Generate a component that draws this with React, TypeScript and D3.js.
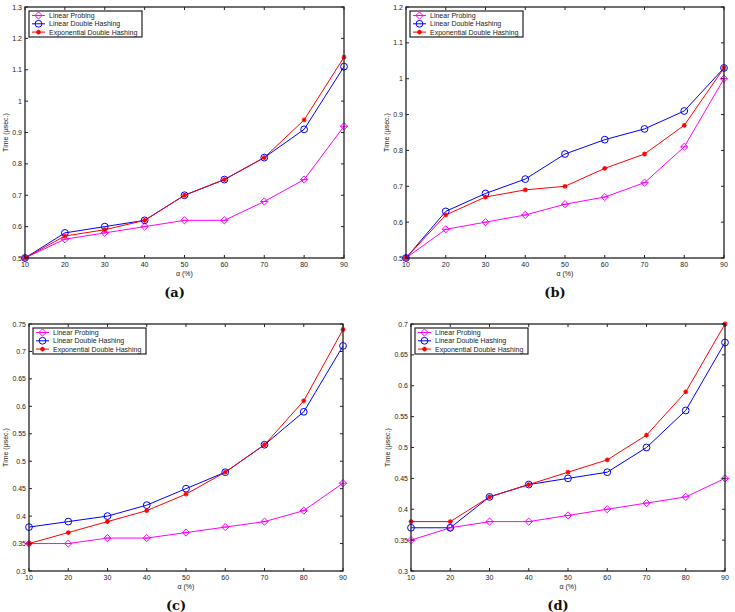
import React from "react";
import * as d3 from "d3";

const alphas = [10, 20, 30, 40, 50, 60, 70, 80, 90];
const seriesNames = ["Linear Probing", "Linear Double Hashing", "Exponential Double Hashing"];
const seriesColors = ["#ff00ff", "#0000ff", "#ff0000"];
const seriesMarkers = ["diamond", "circle", "star"];

const aLP = [0.5, 0.56, 0.58, 0.6, 0.62, 0.62, 0.68, 0.75, 0.92];
const aLDH = [0.5, 0.58, 0.6, 0.62, 0.7, 0.75, 0.82, 0.91, 1.11];
const aEDH = [0.5, 0.57, 0.59, 0.62, 0.7, 0.75, 0.82, 0.94, 1.14];

const bLP = [0.5, 0.58, 0.6, 0.62, 0.65, 0.67, 0.71, 0.81, 1.0];
const bLDH = [0.5, 0.63, 0.68, 0.72, 0.79, 0.83, 0.86, 0.91, 1.03];
const bEDH = [0.5, 0.62, 0.67, 0.69, 0.7, 0.75, 0.79, 0.87, 1.03];

const cLP = [0.35, 0.35, 0.36, 0.36, 0.37, 0.38, 0.39, 0.41, 0.46];
const cLDH = [0.38, 0.39, 0.4, 0.42, 0.45, 0.48, 0.53, 0.59, 0.71];
const cEDH = [0.35, 0.37, 0.39, 0.41, 0.44, 0.48, 0.53, 0.61, 0.74];

const dLP = [0.35, 0.37, 0.38, 0.38, 0.39, 0.4, 0.41, 0.42, 0.45];
const dLDH = [0.37, 0.37, 0.42, 0.44, 0.45, 0.46, 0.5, 0.56, 0.67];
const dEDH = [0.38, 0.38, 0.42, 0.44, 0.46, 0.48, 0.52, 0.59, 0.7];

const yTicksA = [0.5, 0.6, 0.7, 0.8, 0.9, 1, 1.1, 1.2, 1.3];
const yTicksB = [0.5, 0.6, 0.7, 0.8, 0.9, 1, 1.1, 1.2];
const yTicksC = [0.3, 0.35, 0.4, 0.45, 0.5, 0.55, 0.6, 0.65, 0.7, 0.75];
const yTicksD = [0.3, 0.35, 0.4, 0.45, 0.5, 0.55, 0.6, 0.65, 0.7];

const FONT = "'Liberation Sans', Arial, Helvetica, sans-serif";

function Marker({ type, x, y, color }: { type: string; x: number; y: number; color: string }) {
  if (type === "diamond") {
    const s = 3.6;
    return (
      <g>
        <path d={`M${x},${y - s}L${x + s},${y}L${x},${y + s}L${x - s},${y}Z`} fill="none" stroke={color} strokeWidth={1} />
        <line x1={x - s} y1={y} x2={x + s} y2={y} stroke={color} strokeWidth={1} />
      </g>
    );
  }
  if (type === "circle") {
    return <circle cx={x} cy={y} r={3.4} fill="none" stroke={color} strokeWidth={1} />;
  }
  const s = 2.4;
  return (
    <g stroke={color} strokeWidth={1.3}>
      <line x1={x - s} y1={y} x2={x + s} y2={y} />
      <line x1={x} y1={y - s} x2={x} y2={y + s} />
      <line x1={x - s * 0.7} y1={y - s * 0.7} x2={x + s * 0.7} y2={y + s * 0.7} />
      <line x1={x - s * 0.7} y1={y + s * 0.7} x2={x + s * 0.7} y2={y - s * 0.7} />
    </g>
  );
}

function Panel({
  left, top, right, bottom, yDomain, yTicks, series, caption, ylabelX,
}: {
  left: number; top: number; right: number; bottom: number;
  yDomain: [number, number]; yTicks: number[]; series: number[][]; caption: string; ylabelX: number;
}) {
  const x = d3.scaleLinear().domain([10, 90]).range([left, right]);
  const y = d3.scaleLinear().domain(yDomain).range([bottom, top]);
  const line = d3.line<number>().x((_, i) => x(alphas[i])).y((v) => y(v));
  const tl = 3;
  const axisColor = "#222";
  const lx = left + 4;
  const ly = top + 4;
  const legW = 113;
  const legH = 26;
  return (
    <g>
      {series.map((s, i) => (
        <path key={"l" + i} d={line(s) || ""} fill="none" stroke={seriesColors[i]} strokeWidth={1} />
      ))}
      {series.map((s, i) => (
        <g key={"m" + i}>
          {s.map((v, j) => (
            <Marker key={j} type={seriesMarkers[i]} x={x(alphas[j])} y={y(v)} color={seriesColors[i]} />
          ))}
        </g>
      ))}
      <rect x={left} y={top} width={right - left} height={bottom - top} fill="none" stroke={axisColor} strokeWidth={1.3} />
      {alphas.map((a) => (
        <g key={"xt" + a}>
          <line x1={x(a)} x2={x(a)} y1={bottom} y2={bottom - tl} stroke={axisColor} />
          <line x1={x(a)} x2={x(a)} y1={top} y2={top + tl} stroke={axisColor} />
          <text x={x(a)} y={bottom + 9} fontSize={7} fontFamily={FONT} textAnchor="middle" fill="#222">{a}</text>
        </g>
      ))}
      {yTicks.map((t) => (
        <g key={"yt" + t}>
          <line x1={left} x2={left + tl} y1={y(t)} y2={y(t)} stroke={axisColor} />
          <line x1={right} x2={right - tl} y1={y(t)} y2={y(t)} stroke={axisColor} />
          <text x={left - 3} y={y(t) + 2.5} fontSize={7} fontFamily={FONT} textAnchor="end" fill="#222">{String(t)}</text>
        </g>
      ))}
      <text x={(left + right) / 2} y={bottom + 18} fontSize={7} fontFamily={FONT} textAnchor="middle" fill="#222">α (%)</text>
      <text transform={`translate(${ylabelX},${(top + bottom) / 2}) rotate(-90)`} fontSize={7} fontFamily={FONT} textAnchor="middle" fill="#222">Time (μsec.)</text>
      <rect x={lx} y={ly} width={legW} height={legH} fill="#fff" stroke={axisColor} strokeWidth={1.2} />
      {seriesNames.map((n, i) => {
        const yy = ly + 4.5 + i * 8.3;
        return (
          <g key={"lg" + i}>
            <line x1={lx + 3} x2={lx + 16} y1={yy} y2={yy} stroke={seriesColors[i]} strokeWidth={1} />
            <Marker type={seriesMarkers[i]} x={lx + 9.5} y={yy} color={seriesColors[i]} />
            <text x={lx + 20} y={yy + 2.5} fontSize={7} fontFamily={FONT} fill="#222">{n}</text>
          </g>
        );
      })}
      <text x={(left + right) / 2 - 10} y={bottom + 39} fontSize={13} fontWeight="bold" fontFamily="'DejaVu Serif', 'Liberation Serif', serif" textAnchor="middle" fill="#111">{caption}</text>
    </g>
  );
}

export default function App() {
  return (
    <svg width={735} height={612} style={{ position: "absolute", left: 0, top: 0, background: "#fff" }}>
      <rect width={735} height={612} fill="#fff" />
      <Panel left={25} top={7} right={344} bottom={258} yDomain={[0.5, 1.3]} yTicks={yTicksA} series={[aLP, aLDH, aEDH]} caption="(a)" ylabelX={8} />
      <Panel left={406} top={7} right={724} bottom={258} yDomain={[0.5, 1.2]} yTicks={yTicksB} series={[bLP, bLDH, bEDH]} caption="(b)" ylabelX={389} />
      <Panel left={29} top={324} right={343} bottom={571} yDomain={[0.3, 0.75]} yTicks={yTicksC} series={[cLP, cLDH, cEDH]} caption="(c)" ylabelX={8} />
      <Panel left={411} top={324} right={725} bottom={571} yDomain={[0.3, 0.7]} yTicks={yTicksD} series={[dLP, dLDH, dEDH]} caption="(d)" ylabelX={390} />
    </svg>
  );
}
